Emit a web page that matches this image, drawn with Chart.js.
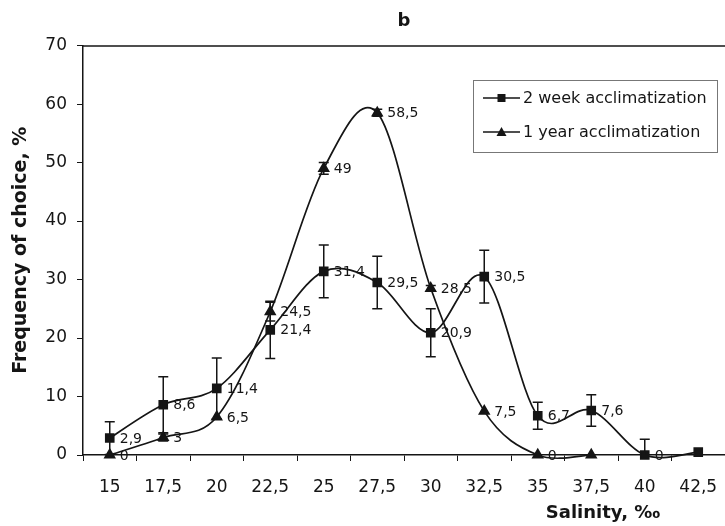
<!DOCTYPE html>
<html>
<head>
  <title>Salinity preference - b</title>
  <script src="https://cdn.jsdelivr.net/npm/chart.js"></script>
  <style>
    body {
      margin: 0;
      background: #fff;
    }

    canvas {
      display: block;
    }
  </style>
</head>
<body>
  <canvas id="salinityChart" width="725" height="526"></canvas>

  <script>
    // Salinity steps (decimal commas as in the original figure)
    const salinity = ['15', '17,5', '20', '22,5', '25', '27,5', '30', '32,5', '35', '37,5', '40', '42,5'];

    // 2 week acclimatization: means, error half-widths, which points carry a value tag
    const week2 = [2.9, 8.6, 11.4, 21.4, 31.4, 29.5, 20.9, 30.5, 6.7, 7.6, 0, 0.5];
    const week2Err = [2.8, 4.8, 5.2, 4.9, 4.5, 4.5, 4.1, 4.5, 2.3, 2.7, 2.7, 0];
    const week2Tagged = [1, 1, 1, 1, 1, 1, 1, 1, 1, 1, 1, 0];

    // 1 year acclimatization
    const year1 = [0, 3, 6.5, 24.5, 49, 58.5, 28.5, 7.5, 0, 0, null, null];
    const year1Err = [0, 0.6, 0, 1.6, 1, 0.6, 0.5, 0, 0, 0, 0, 0];
    const year1Tagged = [1, 1, 1, 1, 1, 1, 1, 1, 1, 0, 0, 0];

    // y axis range
    const yMin = 0;
    const yMax = 70;
    const yStep = 10;

    const FONT = '"DejaVu Sans", sans-serif';
    const INK = '#151515';

    Chart.defaults.font.family = FONT;
    Chart.defaults.color = INK;

    const fmt = v => String(v).replace('.', ',');

    function marker(ctx, style, x, y) {
      ctx.beginPath();
      if (style === 'rect') {
        ctx.rect(x - 4, y - 4, 8, 8);
      } else {
        ctx.moveTo(x, y - 5);
        ctx.lineTo(x + 5, y + 4);
        ctx.lineTo(x - 5, y + 4);
        ctx.closePath();
      }
      ctx.fill();
    }

    // Excel-like smoothing: uniform Catmull-Rom control points on the
    // positions Chart.js already worked out for each point
    function smoothCurves(chart) {
      chart.data.datasets.forEach((ds, d) => {
        const meta = chart.getDatasetMeta(d);
        if (meta.dataset.updateControlPoints) {
          meta.dataset.updateControlPoints(chart.chartArea, 'x');
        }
        const pts = meta.data;
        pts.forEach((p, i) => {
          if (p.skip) return;
          const prev = i > 0 && !pts[i - 1].skip ? pts[i - 1] : p;
          const next = i < pts.length - 1 && !pts[i + 1].skip ? pts[i + 1] : p;
          const dx = (next.x - prev.x) / 6;
          const dy = (next.y - prev.y) / 6;
          p.cp1x = p.x - dx;
          p.cp1y = p.y - dy;
          p.cp2x = p.x + dx;
          p.cp2y = p.y + dy;
        });
      });
    }

    const extras = {
      id: 'extras',
      beforeDatasetsDraw(chart) {
        smoothCurves(chart);

        // value tags sit under the curves, like in the figure
        const ctx = chart.ctx;
        ctx.save();
        ctx.font = '14px ' + FONT;
        ctx.fillStyle = INK;
        ctx.textBaseline = 'middle';
        chart.data.datasets.forEach((ds, d) => {
          chart.getDatasetMeta(d).data.forEach((pt, i) => {
            if (!ds.tagged[i] || ds.data[i] == null) return;
            ctx.fillText(fmt(ds.data[i]), pt.x + 10, pt.y + 1);
          });
        });
        ctx.restore();
      },
      afterDatasetsDraw(chart) {
        // error bars
        const ctx = chart.ctx;
        const y = chart.scales.y;
        ctx.save();
        ctx.strokeStyle = INK;
        ctx.lineWidth = 1.5;
        chart.data.datasets.forEach((ds, d) => {
          chart.getDatasetMeta(d).data.forEach((pt, i) => {
            const v = ds.data[i];
            const e = ds.err[i];
            if (v == null || !e) return;
            const top = y.getPixelForValue(v + e);
            const lowVal = Math.max(yMin, v - e);
            const bot = y.getPixelForValue(lowVal);
            ctx.beginPath();
            ctx.moveTo(pt.x, top);
            ctx.lineTo(pt.x, bot);
            ctx.moveTo(pt.x - 5, top);
            ctx.lineTo(pt.x + 5, top);
            if (lowVal > yMin) {
              ctx.moveTo(pt.x - 5, bot);
              ctx.lineTo(pt.x + 5, bot);
            }
            ctx.stroke();
          });
        });
        ctx.restore();
      },
      afterDraw(chart) {
        const ctx = chart.ctx;
        const area = chart.chartArea;
        ctx.save();

        // top frame line
        ctx.strokeStyle = INK;
        ctx.lineWidth = 1.5;
        ctx.beginPath();
        ctx.moveTo(area.left, area.top + 0.5);
        ctx.lineTo(chart.width, area.top + 0.5);
        ctx.stroke();

        // legend box
        const bx = 473.5, by = 80.5, bw = 244, bh = 72;
        ctx.strokeStyle = '#777';
        ctx.lineWidth = 1;
        ctx.strokeRect(bx, by, bw, bh);

        ctx.font = '16px ' + FONT;
        ctx.textBaseline = 'middle';
        chart.data.datasets.forEach((ds, d) => {
          const ly = 98 + d * 34;
          ctx.strokeStyle = INK;
          ctx.lineWidth = 1.5;
          ctx.beginPath();
          ctx.moveTo(483, ly);
          ctx.lineTo(520, ly);
          ctx.stroke();
          ctx.fillStyle = INK;
          marker(ctx, ds.pointStyle, 501.5, ly);
          ctx.fillText(ds.label, 523, ly + 1);
        });

        // x axis title, set right of centre as in the figure
        ctx.font = 'bold 18px ' + FONT;
        ctx.textAlign = 'center';
        ctx.textBaseline = 'middle';
        ctx.fillText('Salinity, ‰', chart.width - 122, 513);
        ctx.restore();
      }
    };

    const ctx = document.getElementById('salinityChart').getContext('2d');
    new Chart(ctx, {
      type: 'line',
      data: {
        labels: salinity,
        datasets: [
          {
            label: '2 week acclimatization',
            data: week2,
            err: week2Err,
            tagged: week2Tagged,
            borderColor: INK,
            backgroundColor: INK,
            borderWidth: 1.7,
            pointStyle: 'rect',
            pointRadius: 5.6,
            tension: 0.4,
            clip: false
          },
          {
            label: '1 year acclimatization',
            data: year1,
            err: year1Err,
            tagged: year1Tagged,
            borderColor: INK,
            backgroundColor: INK,
            borderWidth: 1.7,
            pointStyle: 'triangle',
            pointRadius: 5.5,
            tension: 0.4,
            clip: false
          }
        ]
      },
      options: {
        responsive: false,
        animation: false,
        layout: {
          // the plot frame runs right up to the edge in the figure
          autoPadding: false,
          padding: 0
        },
        plugins: {
          legend: { display: false },
          tooltip: { enabled: false },
          title: {
            display: true,
            text: 'b',
            fullSize: false,
            color: INK,
            font: { size: 18, weight: 'bold' },
            padding: { top: 11, bottom: 13 }
          }
        },
        scales: {
          x: {
            type: 'category',
            offset: true,
            grid: {
              offset: true,
              drawOnChartArea: false,
              tickLength: 6,
              color: INK
            },
            border: { color: INK, width: 1.5 },
            ticks: {
              font: { size: 17 },
              padding: 16,
              maxRotation: 0,
              autoSkip: false
            },
            afterFit(scale) {
              scale.height = 71;
              scale.paddingLeft = 0;
              scale.paddingRight = 0;
            }
          },
          y: {
            min: yMin,
            max: yMax,
            grid: {
              drawOnChartArea: false,
              tickLength: 6,
              color: INK
            },
            border: { color: INK, width: 1.5 },
            ticks: {
              stepSize: yStep,
              font: { size: 17 },
              padding: 10
            },
            title: {
              display: true,
              text: 'Frequency of choice, %',
              font: { size: 19, weight: 'bold' },
              padding: { top: 10, bottom: 0 }
            },
            afterFit(scale) {
              scale.width = 83;
            }
          }
        }
      },
      plugins: [extras]
    });
  </script>
</body>
</html>
